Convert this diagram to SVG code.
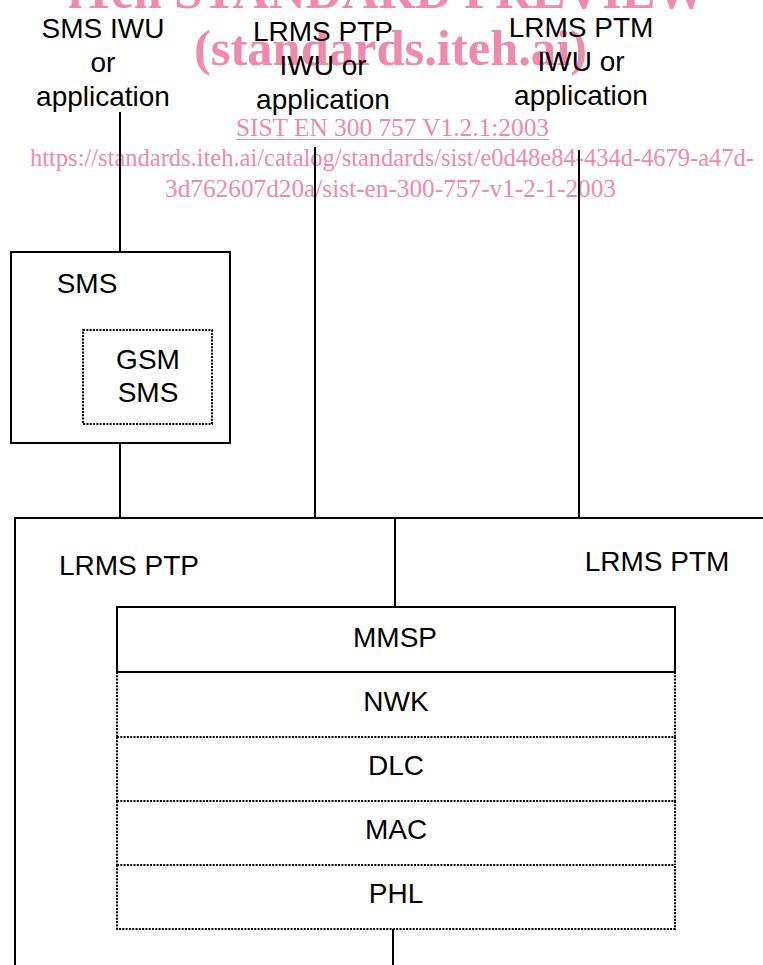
<svg xmlns="http://www.w3.org/2000/svg" width="763" height="965" viewBox="0 0 763 965">
<style>
.t{font-family:"Liberation Sans",Arial,sans-serif;font-size:28px;fill:#000;text-anchor:middle}
.s{fill:none;stroke:#000;stroke-width:2}
.d{fill:none;stroke:#000;stroke-width:2;stroke-dasharray:2,1.3}
.wm{font-family:"Liberation Serif","Times New Roman",serif;fill:#ee8aab}
.wb{font-weight:bold;font-size:50px}
.wr{font-size:25px}
</style>
<rect width="763" height="965" fill="#fff"/>
<g id="watermark">
<text class="wm wb" x="68" y="8" textLength="638" lengthAdjust="spacingAndGlyphs">iTeh STANDARD PREVIEW</text>
<text class="wm wb" x="194" y="65" textLength="393" lengthAdjust="spacingAndGlyphs">(standards.iteh.ai)</text>
<text class="wm wr" x="236" y="136" textLength="313" lengthAdjust="spacingAndGlyphs">SIST EN 300 757 V1.2.1:2003</text>
<line x1="236" y1="139.5" x2="549" y2="139.5" stroke="#ee8aab" stroke-width="1.2"/>
<text class="wm wr" x="30" y="166" textLength="724" lengthAdjust="spacingAndGlyphs">https://standards.iteh.ai/catalog/standards/sist/e0d48e84-434d-4679-a47d-</text>
<text class="wm wr" x="165" y="197" textLength="451" lengthAdjust="spacingAndGlyphs">3d762607d20a/sist-en-300-757-v1-2-1-2003</text>
</g>
<g id="connectors">
<line class="s" x1="120" y1="112" x2="120" y2="252"/>
<line class="s" x1="120" y1="443" x2="120" y2="518"/>
<line class="s" x1="315" y1="147" x2="315" y2="518"/>
<line class="s" x1="579" y1="150" x2="579" y2="518"/>
<line class="s" x1="395" y1="518" x2="395" y2="607"/>
<line class="s" x1="393" y1="929" x2="393" y2="965"/>
</g>
<g id="sms-iwu">
<text class="t" x="103" y="38">SMS IWU</text>
<text class="t" x="103" y="72">or</text>
<text class="t" x="103" y="106">application</text>
</g>
<g id="lrms-ptp-iwu">
<text class="t" x="323" y="41">LRMS PTP</text>
<text class="t" x="323" y="75">IWU or</text>
<text class="t" x="323" y="109">application</text>
</g>
<g id="lrms-ptm-iwu">
<text class="t" x="581" y="37">LRMS PTM</text>
<text class="t" x="581" y="71">IWU or</text>
<text class="t" x="581" y="105">application</text>
</g>
<g id="sms">
<rect class="s" x="11" y="252" width="219" height="191"/>
<text class="t" x="87" y="293">SMS</text>
</g>
<g id="gsm-sms">
<rect class="d" x="83" y="330" width="129" height="94"/>
<text class="t" x="148" y="369">GSM</text>
<text class="t" x="148" y="402">SMS</text>
</g>
<g id="lrms">
<path class="s" d="M763,518 H15 V965"/>
<text class="t" x="129" y="575">LRMS PTP</text>
<text class="t" x="657" y="571">LRMS PTM</text>
</g>
<g id="mmsp">
<rect class="s" x="117" y="607" width="558" height="65"/>
<text class="t" x="395" y="647">MMSP</text>
</g>
<g id="nwk">
<path class="d" d="M117,672 V737 M675,672 V737"/>
<text class="t" x="396" y="711">NWK</text>
</g>
<g id="dlc">
<path class="d" d="M117,737 H675 M117,737 V801 M675,737 V801"/>
<text class="t" x="396" y="775">DLC</text>
</g>
<g id="mac">
<path class="d" d="M117,801 H675 M117,801 V865 M675,801 V865"/>
<text class="t" x="396" y="839">MAC</text>
</g>
<g id="phl">
<path class="d" d="M117,865 H675 M117,865 V929 H675 V865"/>
<text class="t" x="396" y="903">PHL</text>
</g>
</svg>
